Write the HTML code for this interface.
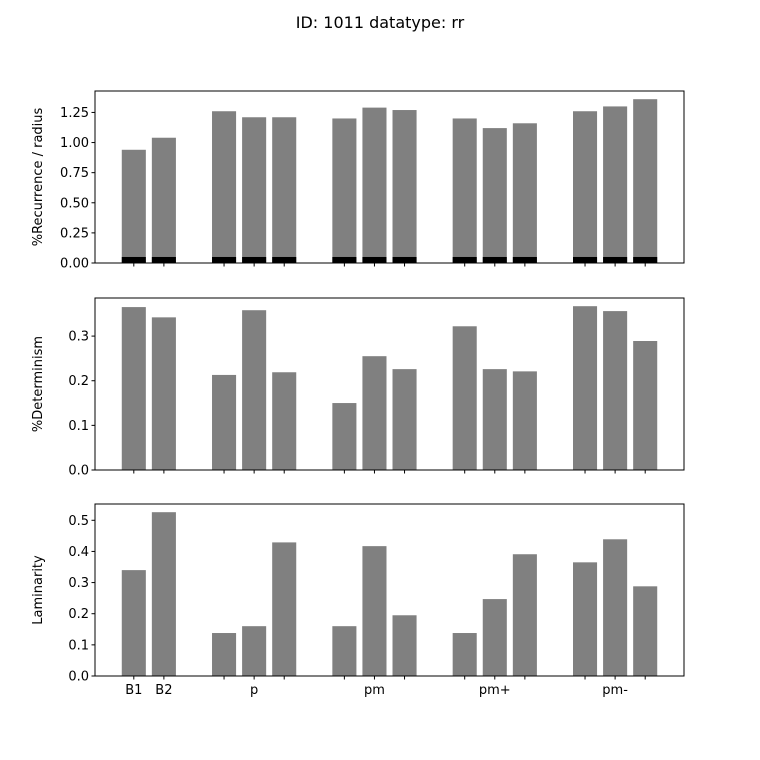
<!DOCTYPE html>
<html><head><meta charset="utf-8"><style>
body{margin:0;background:#fff;}
svg{display:block;font-family:"DejaVu Sans","Liberation Sans",sans-serif;}
</style></head><body>
<svg id="chart" width="760" height="760" viewBox="0 0 760 760" xmlns="http://www.w3.org/2000/svg">
<rect width="760" height="760" fill="#fff"/>
<text x="380" y="28" font-size="16" text-anchor="middle">ID: 1011 datatype: rr</text>
</svg>
<script>
const positions = [0,1,3,4,5,7,8,9,11,12,13,15,16,17];
const tickLabels = ["B1","B2","","p","","","pm","","","pm+","","","pm-",""];
const recurrence = [0.94,1.04,1.26,1.21,1.21,1.20,1.29,1.27,1.20,1.12,1.16,1.26,1.30,1.36];
const recurrenceBase = [0.05,0.05,0.05,0.05,0.05,0.05,0.05,0.05,0.05,0.05,0.05,0.05,0.05,0.05];
const determinism = [0.365,0.342,0.213,0.358,0.219,0.150,0.255,0.226,0.322,0.226,0.221,0.367,0.356,0.289];
const laminarity = [0.340,0.526,0.138,0.160,0.429,0.160,0.417,0.195,0.138,0.247,0.391,0.365,0.439,0.288];
const ticks1 = [0,0.25,0.5,0.75,1.0,1.25];
const ticks2 = [0,0.1,0.2,0.3];
const ticks3 = [0,0.1,0.2,0.3,0.4,0.5];

const svg = document.getElementById('chart');
const NS = 'http://www.w3.org/2000/svg';
function mk(tag, attrs){const e=document.createElementNS(NS,tag);for(const k in attrs)e.setAttribute(k,attrs[k]);svg.appendChild(e);return e;}
const L=95,R=684;
const xmin=-1.29,xmax=18.29;
const xs=v=>L+(v-xmin)/(xmax-xmin)*(R-L);
const bw=(xs(0.8)-xs(0));

function panel(name, top, bot, vals, ticks, dec, ylabel, base, showX){
  const maxV=Math.max(...vals)*1.05;
  const ys=v=>bot-(v/maxV)*(bot-top);
  vals.forEach((v,i)=>{
    const r=mk('rect',{x:xs(positions[i])-bw/2,y:ys(v),width:bw,height:bot-ys(v),fill:'#808080'});
    
    
  });
  if(base){base.forEach((v,i)=>{
    const r=mk('rect',{x:xs(positions[i])-bw/2,y:ys(v),width:bw,height:bot-ys(v),fill:'#000'});
    
    
  });}
  const fr=mk('rect',{x:L,y:top,width:R-L,height:bot-top,fill:'none',stroke:'#000','stroke-width':1});
  
  
  ticks.forEach(t=>{
    const y=ys(t);
    mk('line',{x1:L-3.5,x2:L,y1:y,y2:y,stroke:'#000'});
    const tx=mk('text',{x:L-6,y:y+4.5,'font-size':13,'text-anchor':'end'});
    tx.textContent=t.toFixed(dec);
    
    
  });
  positions.forEach((p,i)=>{
    mk('line',{x1:xs(p),x2:xs(p),y1:bot,y2:bot+3.5,stroke:'#000'});
    if(showX && tickLabels[i]){
      const tx=mk('text',{x:xs(p),y:bot+18,'font-size':13,'text-anchor':'middle'});
      tx.textContent=tickLabels[i];
      
      
    }
  });
  const cy=(top+bot)/2;
  const yl=mk('text',{x:0,y:0,'font-size':13,'text-anchor':'middle',transform:`translate(42,${cy}) rotate(-90)`});
  yl.textContent=ylabel;
  
  
}
panel('recurrence',91,263,recurrence,ticks1,2,'%Recurrence / radius',recurrenceBase,false);
panel('determinism',298,470,determinism,ticks2,1,'%Determinism',null,false);
panel('laminarity',504,676,laminarity,ticks3,1,'Laminarity',null,true);
</script>
</body></html>
